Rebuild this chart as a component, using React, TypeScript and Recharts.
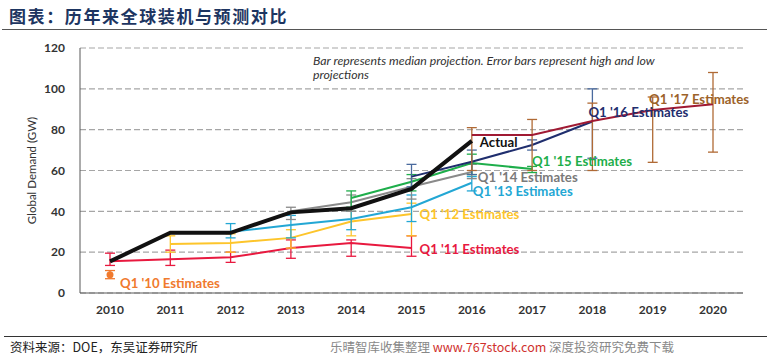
import React from 'react';
import { LineChart, Line, XAxis, YAxis, CartesianGrid, ErrorBar, Label } from 'recharts';

const years = ['2010', '2011', '2012', '2013', '2014', '2015', '2016', '2017', '2018', '2019', '2020'];
const yTicks = [0, 20, 40, 60, 80, 100, 120];

// median projections per vintage (null = not covered)
const actual = [15.5, 29.5, 29.5, 39.5, 41.5, 51, 74.5, null, null, null, null];
const q110 = [9, null, null, null, null, null, null, null, null, null, null];
const q111 = [15.5, 16.5, 17.5, 22, 24.5, 22, null, null, null, null, null];
const q112 = [null, 24, 24.5, 27, 35, 38.7, null, null, null, null, null];
const q113 = [null, null, 30, 33.3, 36.2, 42, 54, null, null, null, null];
const q114 = [null, null, null, 40, 44.5, 52, 59.3, null, null, null, null];
const q115 = [null, null, null, null, 46.5, 54.5, 63.7, 60.7, null, null, null];
const q116 = [null, null, null, null, null, 57, 64.3, 72.5, 84, null, null];
const q117 = [null, null, null, null, null, null, 77.4, 77.4, 84.2, 89.6, 92.4];

// low / high projections
const q110Low = [7, null, null, null, null, null, null, null, null, null, null];
const q110High = [11, null, null, null, null, null, null, null, null, null, null];
const q111Low = [13.5, 13.5, 15, 17, 18, 18, null, null, null, null, null];
const q111High = [19.5, 21, 20, 26, 26, 28, null, null, null, null, null];
const q112Low = [null, 20, 20, 22, 28, 28, null, null, null, null, null];
const q112High = [null, 28, 29, 31, 40, 44, null, null, null, null, null];
const q113Low = [null, null, 27, 27, 31, 35, 50, null, null, null, null];
const q113High = [null, null, 34, 38, 40, 48, 57, null, null, null, null];
const q114Low = [null, null, null, 36, 40, 46, 56, null, null, null, null];
const q114High = [null, null, null, 42, 48, 56, 63, null, null, null, null];
const q115Low = [null, null, null, null, 42, 50, 58, 59, null, null, null];
const q115High = [null, null, null, null, 50, 58, 68, 62, null, null, null];
const q116Low = [null, null, null, null, null, 52, 58, 70, 66, null, null];
const q116High = [null, null, null, null, null, 63, 70, 75, 100, null, null];
const q117Low = [null, null, null, null, null, null, 60, 60, 60, 64, 69];
const q117High = [null, null, null, null, null, null, 81, 85, 93, 96, 108];

type S = {
  key: string; name: string; values: (number | null)[]; low?: (number | null)[]; high?: (number | null)[];
  color: string; errColor?: string; labelColor?: string; width: number; labelAt: number; dx: number; dy: number; anchor?: string; dot?: boolean;
};

const series: S[] = [
  { key: 'q110', name: "Q1 '10 Estimates", values: q110, low: q110Low, high: q110High, color: '#f07a2e', width: 2, labelAt: 0, dx: 10, dy: 9, dot: true },
  { key: 'q111', name: "Q1 '11 Estimates", values: q111, low: q111Low, high: q111High, color: '#e8193f', width: 2, labelAt: 5, dx: 8, dy: 1 },
  { key: 'q112', name: "Q1 '12 Estimates", values: q112, low: q112Low, high: q112High, color: '#fdc52b', width: 2, labelAt: 5, dx: 8, dy: 0 },
  { key: 'q113', name: "Q1 '13 Estimates", values: q113, low: q113Low, high: q113High, color: '#23a7d4', width: 2, labelAt: 6, dx: 1, dy: 9 },
  { key: 'q114', name: "Q1 '14 Estimates", values: q114, low: q114Low, high: q114High, color: '#8a8a8a', labelColor: '#7a7a7a', width: 2, labelAt: 6, dx: 6, dy: 5 },
  { key: 'q115', name: "Q1 '15 Estimates", values: q115, low: q115Low, high: q115High, color: '#1eae4b', width: 2, labelAt: 7, dx: 0, dy: -8 },
  { key: 'q116', name: "Q1 '16 Estimates", values: q116, low: q116Low, high: q116High, color: '#1f2e6e', errColor: '#4a6a9e', width: 2, labelAt: 8, dx: -4, dy: -9 },
  { key: 'q117', name: "Q1 '17 Estimates", values: q117, low: q117Low, high: q117High, color: '#a01a33', errColor: '#b06a35', labelColor: '#9c6229', width: 2, labelAt: 10, dx: 36, dy: -5, anchor: 'end' },
  { key: 'actual', name: 'Actual', values: actual, color: '#111111', width: 4, labelAt: 6, dx: 8, dy: 1 },
];

const data = years.map((year, i) => {
  const row: Record<string, any> = { year };
  series.forEach((s) => {
    const v = s.values[i];
    row[s.key] = v;
    if (v != null && s.low && s.high && s.low[i] != null && s.high[i] != null) {
      row[s.key + 'Err'] = [v - (s.low[i] as number), (s.high[i] as number) - v];
    }
  });
  return row;
});

const font = 'Lato, "Open Sans", sans-serif';

function makeLabel(s: S) {
  return (p: any) => {
    if (p.index !== s.labelAt || p.value == null) return null;
    return (
      <text key={s.key + 'lbl'} x={p.x + s.dx} y={p.y + s.dy} dy="0.35em" textAnchor={s.anchor || 'start'}
        fontFamily={font} fontWeight={700} fontSize={13.2} fill={s.labelColor || s.color}>
        {s.name}
      </text>
    );
  };
}

export default function App() {
  return (
    <div style={{ position: 'absolute', left: 0, top: 0, width: 771, height: 355, background: '#fff', overflow: 'hidden' }}>
      <div style={{ position: 'absolute', left: 9, top: 3, fontFamily: '"Noto Sans CJK SC"', fontWeight: 700, fontSize: 17, letterSpacing: 1.6, color: '#1d3561' }}>
        图表：历年来全球装机与预测对比
      </div>
      <div style={{ position: 'absolute', left: 2, right: 4, top: 29, height: 1, background: '#555' }} />
      <div style={{ position: 'absolute', left: 313, top: 54, fontFamily: font, fontStyle: 'italic', fontSize: 12.3, lineHeight: '14px', color: '#333' }}>
        Bar represents median projection. Error bars represent high and low<br />projections
      </div>
      <LineChart width={771} height={355} data={data} margin={{ top: 48, right: 28, left: 20, bottom: 32 }}
        style={{ position: 'absolute', left: 0, top: 0 }}>
        <CartesianGrid vertical={false} stroke="#a6a6a6" strokeDasharray="6 3" strokeWidth={1.2} />
        <XAxis dataKey="year" stroke="#595959" tickLine={false} tickMargin={6} height={30} padding={{ left: 30, right: 30 }}
          tick={{ fill: '#333', fontSize: 12, fontWeight: 700, fontFamily: font }} />
        <YAxis domain={[0, 120]} ticks={yTicks} stroke="#595959" tickLine={false} tickMargin={9} width={60}
          tick={{ fill: '#333', fontSize: 12, fontWeight: 700, fontFamily: font }}>
          <Label content={({ viewBox }: any) => (
            <text x={viewBox.x + 12} y={viewBox.y + viewBox.height / 2} textAnchor="middle" dy="0.35em"
              transform={`rotate(-90 ${viewBox.x + 12} ${viewBox.y + viewBox.height / 2})`}
              fontFamily={font} fontSize={11.5} fill="#333">
              Global Demand (GW)
            </text>
          )} />
        </YAxis>
        {series.map((s) => (
          <Line key={s.key} dataKey={s.key} stroke={s.color} strokeWidth={s.width} isAnimationActive={false}
            dot={s.dot ? { r: 2.5, fill: s.color, stroke: s.color } : false} activeDot={false}
            connectNulls={false} label={makeLabel(s)}>
            {s.low && <ErrorBar dataKey={s.key + 'Err'} direction="y" width={5} stroke={s.errColor || s.color} strokeWidth={1.3} />}
          </Line>
        ))}
      </LineChart>
      <div style={{ position: 'absolute', left: 4, right: 4, top: 336, height: 1, background: '#333' }} />
      <div style={{ position: 'absolute', left: 10, top: 339, fontFamily: '"Noto Sans CJK SC"', fontSize: 12.5, lineHeight: '15px', color: '#222' }}>
        资料来源：DOE，东吴证券研究所
      </div>
      <div style={{ position: 'absolute', left: 330, top: 339, fontFamily: '"Noto Sans CJK SC"', fontSize: 12.5, lineHeight: '15px', color: '#888', whiteSpace: 'nowrap' }}>
        乐晴智库收集整理 <span style={{ color: '#d0312d' }}>www.767stock.com</span> 深度投资研究免费下载
      </div>
    </div>
  );
}
